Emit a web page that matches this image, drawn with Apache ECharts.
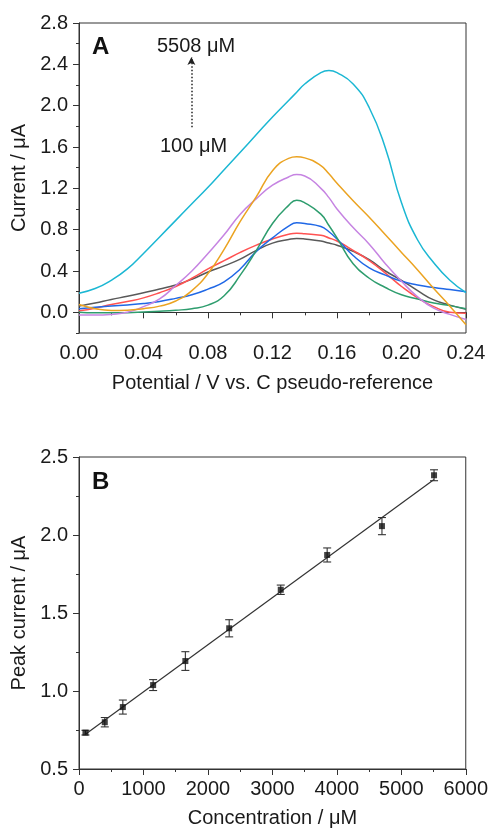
<!DOCTYPE html>
<html>
<head>
<meta charset="utf-8">
<script src="https://cdn.jsdelivr.net/npm/echarts@6/dist/echarts.min.js"></script>
<style>
html,body{margin:0;padding:0;background:#fff;}
#chart{width:491px;height:829px;}
</style>
</head>
<body>
<div id="chart"></div>
<script>
// ---- Panel A: DPV curves (Potential / V vs. C pseudo-reference) ----
const potential = [0.00,0.01,0.02,0.03,0.04,0.05,0.06,0.07,0.08,0.09,0.10,0.11,0.12,0.13,0.135,0.14,0.15,0.155,0.16,0.17,0.18,0.19,0.20,0.21,0.22,0.23,0.24];
const curveGray   = [0.06,0.09,0.125,0.155,0.19,0.225,0.265,0.32,0.39,0.45,0.515,0.60,0.67,0.705,0.715,0.71,0.69,0.67,0.65,0.59,0.51,0.40,0.31,0.21,0.12,0.07,0.03];
const curveRed    = [0.015,0.04,0.075,0.105,0.14,0.19,0.25,0.33,0.42,0.50,0.58,0.65,0.71,0.755,0.765,0.76,0.745,0.72,0.69,0.60,0.50,0.38,0.25,0.14,0.055,0.0,-0.01];
const curveBlue   = [0.035,0.05,0.062,0.072,0.085,0.105,0.135,0.17,0.225,0.295,0.42,0.59,0.72,0.835,0.866,0.86,0.83,0.78,0.71,0.55,0.43,0.36,0.30,0.265,0.24,0.22,0.20];
const curveGreen  = [0.0,-0.005,-0.005,-0.003,0.003,0.01,0.02,0.035,0.07,0.16,0.36,0.60,0.86,1.035,1.084,1.06,0.95,0.84,0.72,0.47,0.33,0.24,0.17,0.13,0.09,0.065,0.035];
const curvePurple = [-0.025,-0.027,-0.02,0.0,0.055,0.13,0.26,0.40,0.57,0.75,0.95,1.10,1.23,1.31,1.333,1.32,1.20,1.11,1.00,0.82,0.66,0.47,0.30,0.15,0.04,-0.02,-0.07];
const curveOrange = [0.075,0.035,0.018,0.02,0.035,0.06,0.11,0.21,0.375,0.61,0.88,1.12,1.37,1.49,1.505,1.495,1.42,1.34,1.25,1.08,0.92,0.75,0.58,0.41,0.23,0.06,-0.12];
const curveCyan   = [0.185,0.23,0.31,0.42,0.57,0.73,0.89,1.05,1.21,1.38,1.55,1.72,1.89,2.05,2.13,2.21,2.32,2.34,2.32,2.21,1.98,1.59,1.06,0.70,0.48,0.31,0.19];
const yTicksA = [0.0,0.4,0.8,1.2,1.6,2.0,2.4,2.8];
const yMinorA = [-0.2,0.2,0.6,1.0,1.4,1.8,2.2,2.6];

// ---- Panel B: calibration ----
const concentration = [100,400,680,1150,1650,2330,3130,3850,4700,5508];
const peakCurrent   = [0.733,0.800,0.897,1.038,1.192,1.402,1.649,1.872,2.057,2.383];
const peakError     = [0.015,0.030,0.045,0.035,0.060,0.055,0.030,0.045,0.055,0.035];

const FONT = "'Liberation Sans', Arial, sans-serif";
const TXT = '#1a1a1a';
const AX = '#333';

// least-squares fit line from data
const n = concentration.length;
const mx = concentration.reduce((a,b)=>a+b,0)/n;
const my = peakCurrent.reduce((a,b)=>a+b,0)/n;
let sxy=0, sxx=0;
for (let i=0;i<n;i++){ sxy += (concentration[i]-mx)*(peakCurrent[i]-my); sxx += (concentration[i]-mx)**2; }
const slope = sxy/sxx, icpt = my - slope*mx;
const fitData = [[concentration[0], icpt+slope*concentration[0]],[concentration[n-1], icpt+slope*concentration[n-1]]];

const curves = [
  {name:'gray', data:curveGray, color:'#595959'},
  {name:'red', data:curveRed, color:'#ff5252'},
  {name:'blue', data:curveBlue, color:'#2068e6'},
  {name:'green', data:curveGreen, color:'#2e9d6e'},
  {name:'purple', data:curvePurple, color:'#c684e2'},
  {name:'orange', data:curveOrange, color:'#eba321'},
  {name:'cyan', data:curveCyan, color:'#1bb7d3'}
];

const labelStyle = {fontSize:20, color:TXT, fontFamily:FONT};
const nameStyle = {fontSize:20, color:TXT, fontFamily:FONT};

const chart = echarts.init(document.getElementById('chart'), null, {renderer:'canvas'});
const series = curves.map(c => ({
  type:'line', name:c.name, xAxisIndex:0, yAxisIndex:0,
  data: potential.map((x,i)=>[x, c.data[i]]),
  smooth:0.5, showSymbol:false, symbol:'none',
  lineStyle:{color:c.color, width:1.5}, itemStyle:{color:c.color},
  animation:false
}));
// annotation arrow (dotted) on panel A
series.push({
  type:'line', name:'arrow', xAxisIndex:0, yAxisIndex:0, data:[], silent:true,
  markLine:{
    silent:true, animation:false,
    symbol:['none','arrow'], symbolSize:[6,8],
    label:{show:false},
    lineStyle:{type:[1.5,2], color:'#222', width:1.5},
    data:[[{coord:[0.0697,1.79]},{coord:[0.0697,2.47]}]]
  }
});
series.push({
  type:'line', name:'fit', xAxisIndex:1, yAxisIndex:2, data:fitData,
  showSymbol:false, symbol:'none', lineStyle:{color:'#333', width:1.2}, animation:false, z:2
});
series.push({
  type:'custom', name:'error', xAxisIndex:1, yAxisIndex:2,
  data: concentration.map((c,i)=>[c, peakCurrent[i]-peakError[i], peakCurrent[i]+peakError[i]]),
  encode:{x:0, y:[1,2]},
  renderItem:function(params, api){
    const x = api.value(0);
    const p1 = api.coord([x, api.value(1)]);
    const p2 = api.coord([x, api.value(2)]);
    const w = 4;
    const st = {stroke:'#333', lineWidth:1.1};
    return {type:'group', children:[
      {type:'line', shape:{x1:p1[0],y1:p1[1],x2:p2[0],y2:p2[1]}, style:st},
      {type:'line', shape:{x1:p1[0]-w,y1:p1[1],x2:p1[0]+w,y2:p1[1]}, style:st},
      {type:'line', shape:{x1:p2[0]-w,y1:p2[1],x2:p2[0]+w,y2:p2[1]}, style:st}
    ]};
  },
  animation:false, z:3
});
series.push({
  type:'scatter', name:'peak', xAxisIndex:1, yAxisIndex:2,
  data: concentration.map((c,i)=>[c, peakCurrent[i]]),
  symbol:'rect', symbolSize:6, itemStyle:{color:'#111'}, animation:false, z:4
});

const option = {
  backgroundColor:'#fff',
  animation:false,
  grid:[
    {left:79, right:25, top:23, height:310, show:true, borderColor:AX, borderWidth:1, containLabel:false},
    {left:79, right:25, top:457, height:312, show:true, borderColor:AX, borderWidth:1, containLabel:false}
  ],
  xAxis:[
    {gridIndex:0, type:'value', min:0, max:0.24, interval:0.04,
     axisLine:{show:true, lineStyle:{color:AX, width:1}},
     axisTick:{show:true, length:6, lineStyle:{color:AX}},
     minorTick:{show:true, splitNumber:2, length:3, lineStyle:{color:AX}},
     splitLine:{show:false}, minorSplitLine:{show:false},
     axisLabel:Object.assign({margin:10, formatter:v=>v.toFixed(2)}, labelStyle),
     name:'Potential / V vs. C pseudo-reference', nameLocation:'middle', nameGap:40, nameTextStyle:nameStyle},
    {gridIndex:1, type:'value', min:0, max:6000, interval:1000,
     axisLine:{show:true, lineStyle:{color:AX, width:1}},
     axisTick:{show:true, length:6, lineStyle:{color:AX}},
     minorTick:{show:true, splitNumber:2, length:3, lineStyle:{color:AX}},
     splitLine:{show:false}, minorSplitLine:{show:false},
     axisLabel:Object.assign({margin:10, formatter:v=>String(Math.round(v))}, labelStyle),
     name:'Concentration / μM', nameLocation:'middle', nameGap:39, nameTextStyle:nameStyle}
  ],
  yAxis:[
    {gridIndex:0, type:'value', min:-0.2, max:2.8, position:'left',
     axisLine:{show:true, lineStyle:{color:AX, width:1}},
     axisTick:{show:true, length:6, customValues:yTicksA, lineStyle:{color:AX}},
     splitLine:{show:false},
     axisLabel:Object.assign({margin:11, customValues:yTicksA, formatter:v=>(Math.abs(v)<1e-9?0:v).toFixed(1)}, labelStyle),
     name:'Current / μA', nameLocation:'middle', nameGap:48, nameRotate:90, nameTextStyle:nameStyle},
    {gridIndex:0, type:'value', min:-0.2, max:2.8, position:'left',
     axisLine:{show:false},
     axisTick:{show:true, length:3, customValues:yMinorA, lineStyle:{color:AX}},
     splitLine:{show:false}, axisLabel:{show:false}},
    {gridIndex:1, type:'value', min:0.5, max:2.5, interval:0.5, position:'left',
     axisLine:{show:true, lineStyle:{color:AX, width:1}},
     axisTick:{show:true, length:6, lineStyle:{color:AX}},
     minorTick:{show:true, splitNumber:2, length:3, lineStyle:{color:AX}},
     splitLine:{show:false}, minorSplitLine:{show:false},
     axisLabel:Object.assign({margin:11, formatter:v=>v.toFixed(1)}, labelStyle),
     name:'Peak current / μA', nameLocation:'middle', nameGap:48, nameRotate:90, nameTextStyle:nameStyle}
  ],
  graphic:[
    {type:'text', left:92, top:35, style:{text:'A', font:"bold 24px 'Liberation Sans', Arial, sans-serif", fill:'#111'}},
    {type:'text', left:92, top:470, style:{text:'B', font:"bold 24px 'Liberation Sans', Arial, sans-serif", fill:'#111'}},
    {type:'text', left:157, top:36, style:{text:'5508 μM', font:"20px 'Liberation Sans', Arial, sans-serif", fill:TXT}},
    {type:'text', left:160, top:136, style:{text:'100 μM', font:"20px 'Liberation Sans', Arial, sans-serif", fill:TXT}}
  ],
  series:series
};
chart.setOption(option);
</script>
</body>
</html>
